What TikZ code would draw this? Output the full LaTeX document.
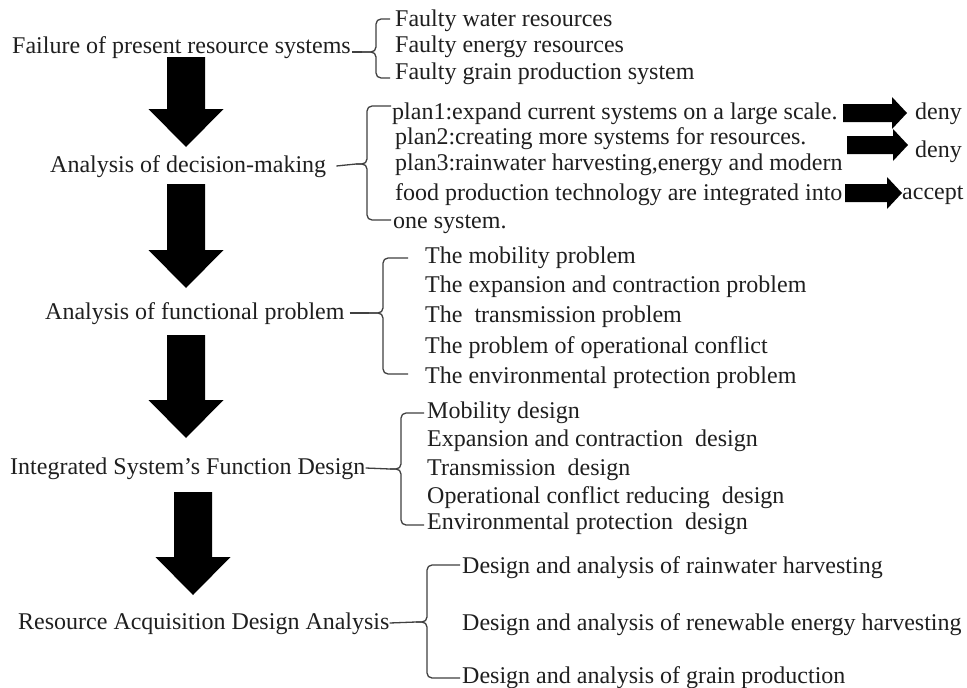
\documentclass[tikz,border=0pt]{standalone}
\usepackage{fontspec}
\setmainfont{Liberation Serif}
\usetikzlibrary{calc}
\newcommand\cbrace[6]{% tip x, vertical x, right x, top y, bottom y, mid y
  \draw[brace] (#3,#4) -- (#2,#4) -- (#2,#6) -- (#1,#6);
  \draw[brace] (#1,#6) -- (#2,#6) -- (#2,#5) -- (#3,#5);}
\newcommand\bigarr[2]{\fill[black] ($(#1)+(-19,0)$) -- ($(#1)+(19,0)$) -- ($(#2)+(19,-38)$) -- ($(#2)+(37.5,-38)$) -- (#2) -- ($(#2)+(-37.5,-38)$) -- ($(#2)+(-19,-38)$) -- cycle;}
\newcommand\smallarr[2]{\fill[black] ($(#1)+(0,-9)$) -- ($(#2)+(-15,-9)$) -- ($(#2)+(-15,-16)$) -- (#2) -- ($(#2)+(-15,16)$) -- ($(#2)+(-15,9)$) -- ($(#1)+(0,9)$) -- cycle;}
\begin{document}
\begin{tikzpicture}[x=1pt,y=-1pt,
  txt/.style={anchor=west, inner sep=0pt, font=\fontsize{24}{28}\selectfont, text height=17pt, text depth=5pt, text=black!88},
  brace/.style={draw=black!75, line width=1.3pt, rounded corners=5pt},
  link/.style={draw=black!75, line width=1.3pt}]
\useasboundingbox[fill=white] (0,0) rectangle (967,688);

% main column
\node[txt] (m1) at (12,47) {Failure of present resource systems};
\node[txt] (m2) at (50,166) {Analysis of decision-making};
\node[txt] (m3) at (45,313) {Analysis of functional problem};
\node[txt] (m4) at (10,468) {Integrated System’s Function Design};
\node[txt] (m5) at (18,623) {Resource Acquisition Design Analysis};

% big arrows
\coordinate (a1s) at (186,57);  \coordinate (a1e) at (186,147);
\coordinate (a2s) at (186,184); \coordinate (a2e) at (186,288);
\coordinate (a3s) at (186,335); \coordinate (a3e) at (186,438);
\coordinate (a4s) at (193,492); \coordinate (a4e) at (193,595);
\bigarr{a1s}{a1e}
\bigarr{a2s}{a2e}
\bigarr{a3s}{a3e}
\bigarr{a4s}{a4e}

% group 1
\node[txt] (r11) at (395,21) {Faulty water resources};
\node[txt] (r12) at (395,46) {Faulty energy resources};
\node[txt] (r13) at (395,73) {Faulty grain production system};
\cbrace{362}{376}{390}{19}{78}{52}
\coordinate (t1) at (362,52);
\draw[link] ([xshift=1pt,yshift=-5pt]m1.east) -- (t1);

% group 2
\node[txt] (r21) at (392,113) {plan1:expand current systems on a large scale.};
\node[txt] (r22) at (395,138) {plan2:creating more systems for resources.};
\node[txt] (r23) at (395,164) {plan3:rainwater harvesting,energy and modern};
\node[txt] (r24) at (395,194) {food production technology are integrated into};
\node[txt] (r25) at (393,222) {one system.};
\cbrace{356}{367}{391}{106}{220}{164}
\coordinate (t2) at (356,164);
\draw[link] ([xshift=10pt]m2.east) -- (t2);

\node[txt] (d1) at (915,113) {deny};
\node[txt] (d2) at (915,151) {deny};
\node[txt] (d3) at (902,193) {accept};
\coordinate (s1) at (843,113); \coordinate (e1) at (907,113);
\coordinate (s2) at (847,145); \coordinate (e2) at (908,145);
\coordinate (s3) at (845,193); \coordinate (e3) at (902,193);
\smallarr{s1}{e1}
\smallarr{s2}{e2}
\smallarr{s3}{e3}

% group 3
\node[txt] (r31) at (425,257) {The mobility problem};
\node[txt] (r32) at (425,286) {The expansion and contraction problem};
\node[txt] (r33) at (425,316) {The\ \ transmission problem};
\node[txt] (r34) at (425,347) {The problem of operational conflict};
\node[txt] (r35) at (425,377) {The environmental protection problem};
\cbrace{369}{383}{408}{258}{374}{313}
\coordinate (t3) at (369,313);
\draw[link] ([xshift=5pt]m3.east) -- (t3);

% group 4
\node[txt] (r41) at (427,412) {Mobility design};
\node[txt] (r42) at (427,440) {Expansion and contraction\ \ design};
\node[txt] (r43) at (427,469) {Transmission\ \ design};
\node[txt] (r44) at (427,497) {Operational conflict reducing\ \ design};
\node[txt] (r45) at (427,523) {Environmental protection\ \ design};
\cbrace{390}{401}{424}{413}{525}{469}
\coordinate (t4) at (390,469);
\draw[link] (m4.east) -- (t4);

% group 5
\node[txt] (r51) at (462,567) {Design and analysis of rainwater harvesting};
\node[txt] (r52) at (462,624) {Design and analysis of renewable energy harvesting};
\node[txt] (r53) at (462,677) {Design and analysis of grain production};
\cbrace{416}{427}{460}{565}{678}{622}
\coordinate (t5) at (416,622);
\draw[link] (m5.east) -- (t5);
\end{tikzpicture}
\end{document}
